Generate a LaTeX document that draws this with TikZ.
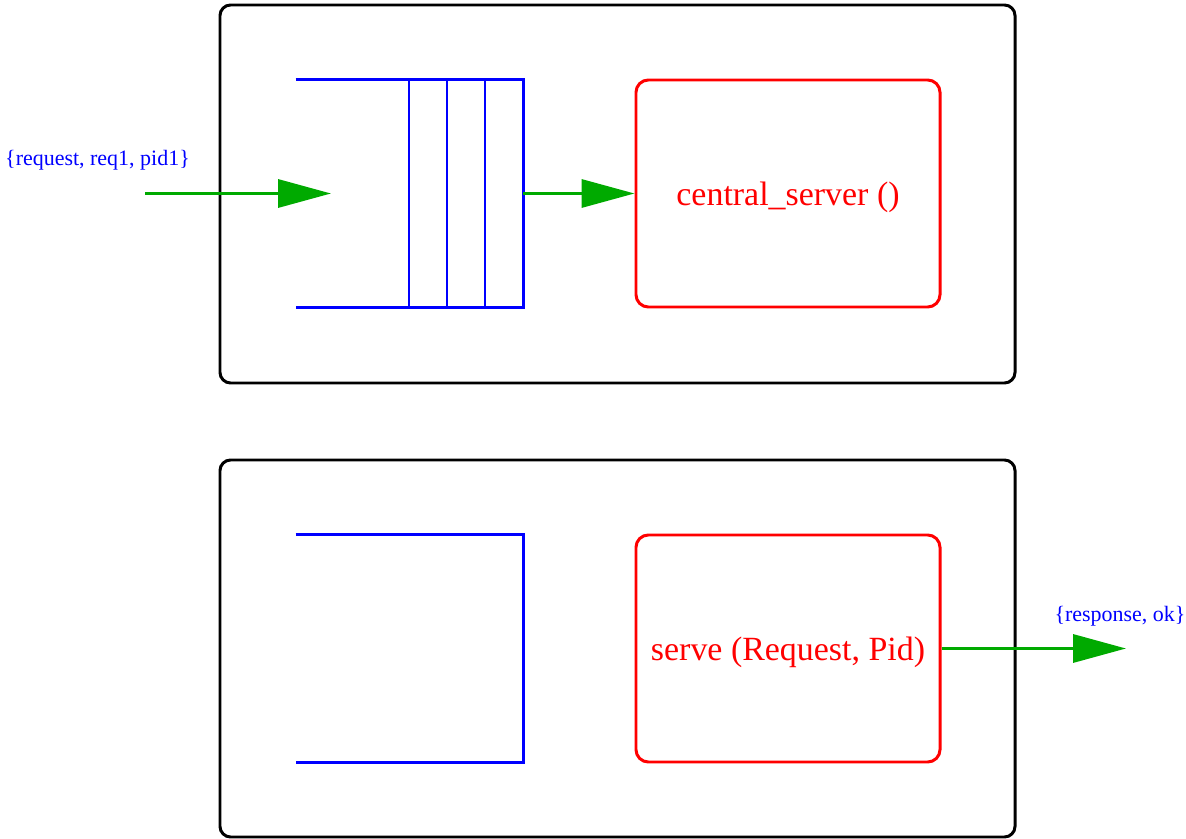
\documentclass[tikz,border=0pt]{standalone}
\usepackage{fontspec}
\setmainfont{Liberation Serif}
\usetikzlibrary{arrows.meta,positioning}

\definecolor{msggreen}{RGB}{0,170,0}

\begin{document}
\begin{tikzpicture}[
  >={Triangle[length=1.06cm,width=0.56cm]},
  outer/.style={
    draw=black, line width=1.7pt, rounded corners=6pt
  },
  proc/.style={
    rectangle, rounded corners=7pt,
    draw=red, line width=1.7pt, text=red,
    minimum width=6.08cm, minimum height=4.54cm,
    text depth=0pt,
    font=\fontsize{19.3}{23}\selectfont
  },
  queue/.style={
    rectangle, minimum width=4.54cm, minimum height=4.54cm,
    inner sep=0pt
  },
  qline/.style={draw=blue, line width=1.7pt},
  msg/.style={->, msggreen, line width=1.9pt},
  lbl/.style={font=\fontsize{12.5}{15}\selectfont, text=blue, inner sep=0pt}
]

\useasboundingbox (0,0) rectangle (23.72,-16.78);

%% ── Top: queue feeding the server loop ──────────────────────────────
\draw[outer] (4.40,-0.10) rectangle (20.30,-7.66);

\node[queue] (q1) at (8.19,-3.87) {};
\draw[qline] (q1.north west) -- (q1.north east) -- (q1.south east) -- (q1.south west);
\foreach \x in {8.18,8.94,9.70}
  \draw[qline] (\x,-1.60) -- (\x,-6.14);

\node[proc] (srv) at (15.76,-3.87) {central\_server ()};

\coordinate (src) at (2.90,-3.87);
\coordinate (qin) at (6.62,-3.87);
\node[lbl] (lin) at (1.95,-3.20) {\{request, req1, pid1\}};

\draw[msg] (src) -- (qin);
\draw[msg] (q1.east) -- (srv.west);

%% ── Bottom: message taken, reply sent ───────────────────────────────
\draw[outer] (4.40,-9.20) rectangle (20.30,-16.74);

\node[queue] (q2) at (8.19,-12.97) {};
\draw[qline] (q2.north west) -- (q2.north east) -- (q2.south east) -- (q2.south west);

\node[proc] (serve) at (15.76,-12.97) {serve (Request, Pid)};

\coordinate (dst) at (22.52,-12.97);
\node[lbl] (lout) at (22.40,-12.32) {\{response, ok\}};

\draw[msg] (serve.east) -- (dst);

\end{tikzpicture}
\end{document}
